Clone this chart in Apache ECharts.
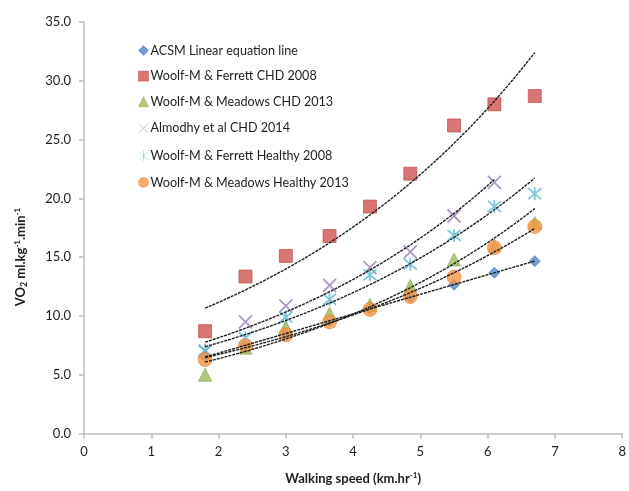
<!DOCTYPE html>
<html>
<head>
<meta charset="utf-8">
<script src="https://cdn.jsdelivr.net/npm/echarts@6/dist/echarts.min.js"></script>
<style>
  html, body { margin: 0; padding: 0; background: #fff; }
  #chart { width: 629px; height: 491px; }
</style>
</head>
<body>
<div id="chart"></div>
<script>
// Walking speeds (km/h) shared by every study
const speeds = [1.8, 2.4, 3.0, 3.65, 4.25, 4.85, 5.5, 6.1, 6.7];

// VO2 (ml/kg/min) per study at each speed
const acsmLinear        = [6.5, 7.5, 8.5, 9.6, 10.6, 11.6, 12.65, 13.68, 14.66];
const ferrettCHD2008    = [8.7, 13.35, 15.1, 16.8, 19.3, 22.1, 26.2, 28.0, 28.7];
const meadowsCHD2013    = [5.0, 7.3, 9.05, 10.2, 10.95, 12.55, 14.8, 16.0, 17.9];
const almodhyCHD2014    = [7.0, 9.5, 10.85, 12.6, 14.1, 15.45, 18.5, 21.35, null];
const ferrettHealthy2008 = [7.05, 8.15, 9.9, 11.4, 13.5, 14.4, 16.85, 19.3, 20.4];
const meadowsHealthy2013 = [6.3, 7.47, 8.4, 9.5, 10.55, 11.65, 13.3, 15.8, 17.6];

const seriesNames = [
  'ACSM Linear equation line',
  'Woolf-M & Ferrett CHD 2008',
  'Woolf-M & Meadows CHD 2013',
  'Almodhy et al CHD 2014',
  'Woolf-M & Ferrett Healthy 2008',
  'Woolf-M & Meadows Healthy 2013'
];
const yTicks = [0, 5, 10, 15, 20, 25, 30, 35];
const xTicks = [0, 1, 2, 3, 4, 5, 6, 7, 8];

const valueSets = [acsmLinear, ferrettCHD2008, meadowsCHD2013, almodhyCHD2014, ferrettHealthy2008, meadowsHealthy2013];
const trendKinds = ['linear', 'exp', 'exp', 'exp', 'exp', 'exp'];

const colors = ['#4f86c6', '#cf5450', '#9bbb59', '#9680b5', '#5bbcd3', '#f79646'];
const edgeColors = ['#3f74b4', '#b8433f', '#86a746', '#8064a2', '#4bacc6', '#e58535'];
const crossPath = 'path://M0,0L10,10M10,0L0,10';
const starPath = 'path://M0,0L10,10M10,0L0,10M5,-1L5,11';
const symbols = ['diamond', 'rect', 'triangle', crossPath, starPath, 'circle'];
const sizes = [11, 13, 13, 13, 13, 14];
// Legend glyphs as outline paths so they scale to the legend item box
const legendIcons = [
  'path://M5,0L10,5L5,10L0,5Z',
  'path://M0,0L10,0L10,10L0,10Z',
  'path://M5,0L10,10L0,10Z',
  crossPath,
  starPath,
  'path://M5,0A5,5,0,1,1,4.99,0Z'
];

function pairs(vals) {
  const out = [];
  vals.forEach((v, i) => { if (v !== null) out.push([speeds[i], v]); });
  return out;
}

// Least-squares trend line (linear, or exponential fitted on ln y)
function trend(points, kind) {
  const n = points.length;
  const xs = points.map(p => p[0]);
  const ys = points.map(p => kind === 'exp' ? Math.log(p[1]) : p[1]);
  const mx = xs.reduce((a, b) => a + b, 0) / n;
  const my = ys.reduce((a, b) => a + b, 0) / n;
  let sxy = 0, sxx = 0;
  for (let i = 0; i < n; i++) { sxy += (xs[i] - mx) * (ys[i] - my); sxx += (xs[i] - mx) * (xs[i] - mx); }
  const b = sxy / sxx, a = my - b * mx;
  const x0 = Math.min(...xs), x1 = Math.max(...xs);
  const out = [];
  const steps = 60;
  for (let k = 0; k <= steps; k++) {
    const x = x0 + (x1 - x0) * k / steps;
    const y = kind === 'exp' ? Math.exp(a + b * x) : a + b * x;
    out.push([x, y]);
  }
  return out;
}

const series = [];
valueSets.forEach((vals, i) => {
  const isLineSymbol = i === 3 || i === 4;
  series.push({
    name: seriesNames[i],
    type: 'scatter',
    data: pairs(vals),
    symbol: symbols[i],
    symbolSize: sizes[i],
    z: 2,
    itemStyle: isLineSymbol
      ? { color: 'none', borderColor: colors[i], borderWidth: 1.8 }
      : { color: colors[i], borderColor: edgeColors[i], borderWidth: 0.8 }
  });
});
valueSets.forEach((vals, i) => {
  series.push({
    name: 'trend ' + i,
    type: 'line',
    data: trend(pairs(vals), trendKinds[i]),
    showSymbol: false,
    symbol: 'none',
    silent: true,
    z: 5,
    lineStyle: { color: '#1c1c1c', width: 1.4, type: [3, 1] }
  });
});

const fontFam = 'Lato, "Open Sans", sans-serif';
const tickFont = { fontFamily: fontFam, fontSize: 13, color: '#1e1e1e' };

const chart = echarts.init(document.getElementById('chart'), null, { renderer: 'canvas' });
chart.setOption({
  animation: false,
  backgroundColor: '#ffffff',
  grid: { left: 84, right: 4, top: 22, bottom: 52, containLabel: false },
  legend: {
    data: seriesNames.map((name, i) => ({ name: name, icon: legendIcons[i] })),
    orient: 'vertical',
    left: 131,
    top: 39,
    itemGap: 12.6,
    itemWidth: 10,
    itemHeight: 10,
    itemStyle: { borderWidth: 0.6 },
    textStyle: { fontFamily: fontFam, fontSize: 12.6, color: '#1e1e1e', padding: [0, 0, 0, -3] }
  },
  xAxis: {
    type: 'value',
    min: xTicks[0],
    max: xTicks[xTicks.length - 1],
    interval: 1,
    splitLine: { show: false },
    axisLine: { show: true, lineStyle: { color: '#bdbdbd', width: 1.5 } },
    axisTick: { show: true, length: 5, lineStyle: { color: '#bdbdbd', width: 1.5 } },
    axisLabel: Object.assign({ margin: 12 }, tickFont),
    name: '{a|Walking speed (km.hr}{s|-1}{a|)}',
    nameLocation: 'middle',
    nameGap: 37,
    nameTextStyle: {
      rich: {
        a: { fontFamily: fontFam, fontSize: 13, fontWeight: 'bold', color: '#1e1e1e', lineHeight: 16 },
        s: { fontFamily: fontFam, fontSize: 8, fontWeight: 'bold', color: '#1e1e1e', lineHeight: 16, padding: [0, 0, 7, 0] }
      }
    }
  },
  yAxis: {
    type: 'value',
    min: yTicks[0],
    max: yTicks[yTicks.length - 1],
    interval: 5,
    splitLine: { show: false },
    axisLine: { show: true, lineStyle: { color: '#bdbdbd', width: 1.5 } },
    axisTick: { show: true, length: 5, lineStyle: { color: '#bdbdbd', width: 1.5 } },
    axisLabel: Object.assign({ margin: 13, formatter: v => v.toFixed(1) }, tickFont)
  },
  graphic: [{
    type: 'text',
    x: 21,
    y: 257,
    rotation: Math.PI / 2,
    style: {
      text: '{a|VO}{b|2}{a| ml.kg}{s|-1}{a|.min}{s|-1}',
      align: 'center',
      verticalAlign: 'middle',
      rich: {
        a: { fontFamily: fontFam, fontSize: 13, fontWeight: 'bold', fill: '#1e1e1e', lineHeight: 16 },
        b: { fontFamily: fontFam, fontSize: 9, fontWeight: 'bold', fill: '#1e1e1e', lineHeight: 16, padding: [6, 0, 0, 0] },
        s: { fontFamily: fontFam, fontSize: 8, fontWeight: 'bold', fill: '#1e1e1e', lineHeight: 16, padding: [0, 0, 7, 0] }
      }
    }
  }],
  series: series
});
</script>
</body>
</html>
